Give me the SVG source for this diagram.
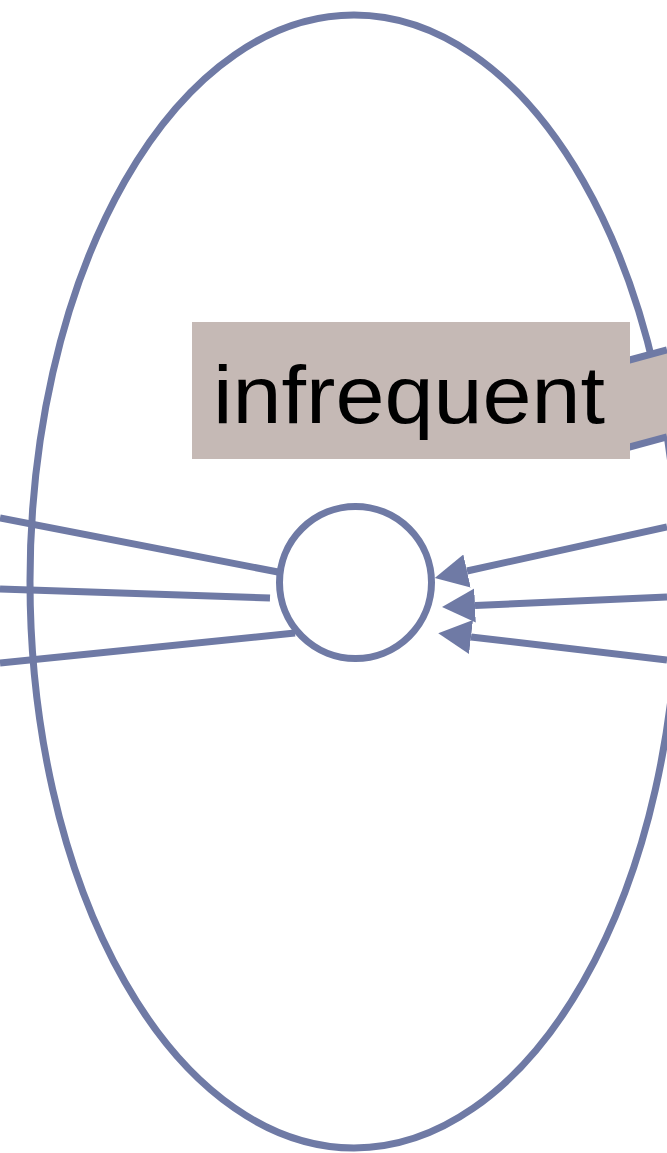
<svg xmlns="http://www.w3.org/2000/svg" width="667" height="1153" viewBox="0 0 667 1153">
  <defs>
    <style>
      .edge { stroke: #6f7aa5; stroke-width: 7; fill: none; }
      .node { stroke: #6f7aa5; stroke-width: 7; fill: none; }
      .label { fill: #c5b9b5; }
      .txt { font-family: "Liberation Sans", Arial, sans-serif; font-size: 82px; fill: #000; }
    </style>
    <marker id="arr" markerUnits="userSpaceOnUse" markerWidth="34" markerHeight="36" refX="0" refY="17" orient="auto" viewBox="0 0 34 34">
      <path d="M0,0 L33,17 L0,34 z" fill="#6f7aa5"/>
    </marker>
  </defs>
  <rect width="667" height="1153" fill="#ffffff"/>
  <g id="outer-ellipse">
    <ellipse class="node" cx="354" cy="581.5" rx="324" ry="566.5"/>
  </g>
  <g id="connectors">
    <line class="edge" x1="0" y1="518" x2="278" y2="572"/>
    <line class="edge" x1="0" y1="589" x2="270" y2="598"/>
    <line class="edge" x1="0" y1="663" x2="295" y2="633"/>
    <line class="edge" x1="667" y1="527" x2="467" y2="571" marker-end="url(#arr)"/>
    <line class="edge" x1="667" y1="597" x2="475" y2="605.5" marker-end="url(#arr)"/>
    <line class="edge" x1="667" y1="660" x2="471" y2="637" marker-end="url(#arr)"/>
  </g>
  <g id="right-label">
    <polygon class="label" points="600,368 667,350 667,437 600,455"/>
    <line class="edge" x1="600" y1="368" x2="667" y2="350"/>
    <line class="edge" x1="600" y1="455" x2="667" y2="437"/>
  </g>
  <g id="inner-node">
    <circle class="node" cx="355.5" cy="582.5" r="76" fill="#ffffff"/>
  </g>
  <g id="label-infrequent">
    <rect class="label" x="192" y="322" width="438" height="137"/>
    <text class="txt" x="213" y="423" textLength="392" lengthAdjust="spacingAndGlyphs">infrequent</text>
  </g>
</svg>
